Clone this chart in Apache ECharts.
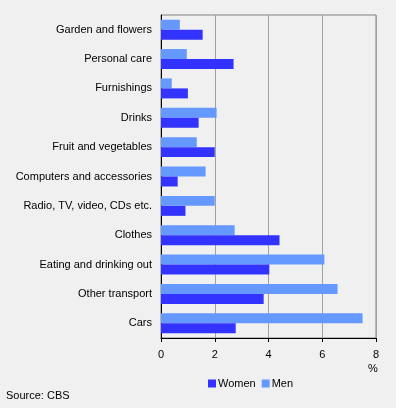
<!DOCTYPE html>
<html>
<head>
<meta charset="utf-8">
<script src="https://cdn.jsdelivr.net/npm/echarts@6/dist/echarts.min.js"></script>
<style>
  html, body { margin: 0; padding: 0; background: #f0f0f0; }
  #echart { width: 396px; height: 408px; }
</style>
</head>
<body>
<div id="echart"></div>
<script>
// categories, top to bottom
var categories = ['Garden and flowers', 'Personal care', 'Furnishings', 'Drinks',
  'Fruit and vegetables', 'Computers and accessories', 'Radio, TV, video, CDs etc.',
  'Clothes', 'Eating and drinking out', 'Other transport', 'Cars'];
var women = [1.55, 2.7, 1.0, 1.4, 2.0, 0.62, 0.91, 4.41, 4.03, 3.82, 2.78];
var men = [0.7, 0.96, 0.4, 2.07, 1.33, 1.66, 2.0, 2.74, 6.08, 6.57, 7.5];
var xTicks = [0, 2, 4, 6, 8];

var font = 'Liberation Sans';
var myChart = echarts.init(document.getElementById('echart'));

var option = {
    backgroundColor: '#f0f0f0',
    animation: false,
    textStyle: { fontFamily: font },
    grid: {
        left: 161, right: 20, top: 15, bottom: 70,
        show: true, borderColor: '#808080', borderWidth: 1,
        containLabel: false
    },
    legend: {
        data: ['Women', 'Men'],
        top: 373,
        left: 203,
        itemWidth: 8, itemHeight: 8, itemGap: 6,
        icon: 'rect',
        textStyle: { fontSize: 11, color: '#000', fontFamily: font, padding: [0, 0, 0, -3] }
    },
    xAxis: {
        type: 'value',
        min: xTicks[0], max: xTicks[xTicks.length - 1], interval: 2,
        axisLine: { show: true, lineStyle: { color: '#000' } },
        axisTick: { show: true, length: 4, lineStyle: { color: '#000' } },
        axisLabel: { color: '#000', fontSize: 11, margin: 11 },
        splitLine: { lineStyle: { color: '#a0a0a0' } }
    },
    yAxis: {
        type: 'category',
        data: categories,
        inverse: true,
        axisLine: { show: true, lineStyle: { color: '#000' } },
        axisTick: { show: false },
        axisLabel: { color: '#000', fontSize: 11, margin: 9 }
    },
    graphic: [
        { type: 'text', left: 368, top: 363, style: { text: '%', fontSize: 11, fill: '#000', fontFamily: font } },
        { type: 'text', left: 6, top: 390, style: { text: 'Source: CBS', fontSize: 11, fill: '#000', fontFamily: font } }
    ],
    series: [
        {
            name: 'Men', type: 'bar', data: men,
            itemStyle: { color: '#6699ff' },
            barGap: '0%', barCategoryGap: '32%'
        },
        {
            name: 'Women', type: 'bar', data: women,
            itemStyle: { color: '#3333ff' },
            barGap: '0%', barCategoryGap: '32%'
        }
    ]
};
myChart.setOption(option);
</script>
</body>
</html>
